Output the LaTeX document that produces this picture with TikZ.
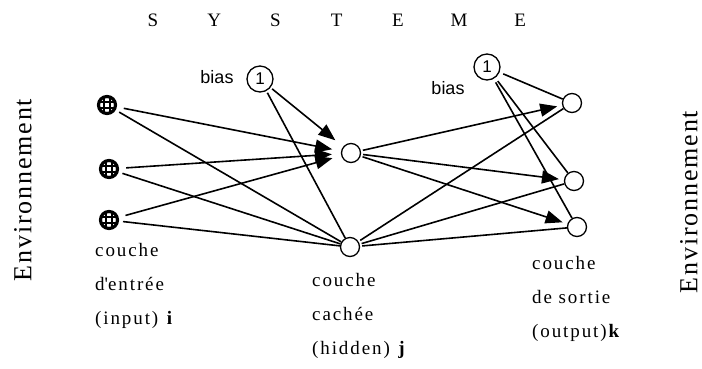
\documentclass[tikz,border=0pt]{standalone}
\usepackage{fontspec}
\setmainfont{Liberation Serif}
\setsansfont{Liberation Sans}
\usetikzlibrary{arrows.meta,positioning}

\begin{document}
\begin{tikzpicture}[x=1pt, y=-1pt,
  neurone/.style = {draw, circle, line width=1.3pt, minimum size=19pt, inner sep=0pt},
  entree/.style = {draw, circle, line width=3.2pt, minimum size=17pt, inner sep=0pt,
    path picture = {
      \foreach \d in {-2.7,2.7} {
        \draw[line width=1.7pt] ([xshift=\d pt]path picture bounding box.north) -- ([xshift=\d pt]path picture bounding box.south);
        \draw[line width=1.7pt] ([yshift=\d pt]path picture bounding box.west) -- ([yshift=\d pt]path picture bounding box.east);
      }}},
  biais/.style = {draw, circle, line width=1.3pt, minimum size=26pt, inner sep=0pt, font=\sffamily\fontsize{17}{17}\selectfont},
  lien/.style = {line width=1.6pt, shorten <=2pt},
  fleche/.style = {lien, -{Triangle[length=17pt, width=13pt]}},
  couche/.style = {anchor=north west, inner sep=0pt, align=left, font=\fontsize{19}{34}\selectfont\addfontfeature{LetterSpace=10}},
  env/.style = {rotate=90, font=\fontsize{26}{26}\selectfont\addfontfeature{LetterSpace=7}},
  etiq/.style = {font=\sffamily\fontsize{18}{18}\selectfont}]
\useasboundingbox (0,0) rectangle (702,368);

% titre
\foreach \l [count=\k from 0] in {S,Y,S,T,E,M,E}
  \node[anchor=base, font=\fontsize{19}{19}\selectfont] (t\k) at (153+61.2*\k, 26) {\l};

\node[env] (envg) at (23,190) {Environnement};
\node[env] (envd) at (689,202) {Environnement};

% neurones
\node[entree] (e1) at (107,105) {};
\node[entree] (e2) at (109,169) {};
\node[entree] (e3) at (109,220) {};
\node[biais] (b1) at (260,79) {1};
\node[neurone] (c1) at (351,153) {};
\node[neurone] (c2) at (350,247) {};
\node[biais] (b2) at (487,67) {1};
\node[neurone] (s1) at (572,103) {};
\node[neurone] (s2) at (574,181) {};
\node[neurone] (s3) at (577,227) {};

\node[etiq] (lb1) at (217,77) {bias};
\node[etiq] (lb2) at (448,88) {bias};

% connexions
\foreach \x in {e1,e2,e3} {
  \draw[fleche, shorten <=7pt, shorten >=9pt] (\x) -- (c1);
  \draw[lien, shorten <=4pt] (\x) -- (c2);
}
\draw[fleche, shorten >=10pt] (b1) -- (c1);
\draw[lien] (b1) -- (c2);
\foreach \x in {s1,s2,s3} {
  \draw[fleche, shorten >=5pt] (c1) -- (\x);
  \draw[lien] (c2) -- (\x);
  \draw[lien, shorten <=4pt] (b2) -- (\x);
}

% legendes
\node[couche] (le) at (95,243) {couche\\d\textquotesingle entrée\\(input) \textbf{i}};
\node[couche] (lc) at (312,273) {couche\\cachée\\(hidden) \textbf{j}};
\node[couche] (ls) at (532,256) {couche\\de sortie\\(output)\textbf{k}};
\end{tikzpicture}
\end{document}
